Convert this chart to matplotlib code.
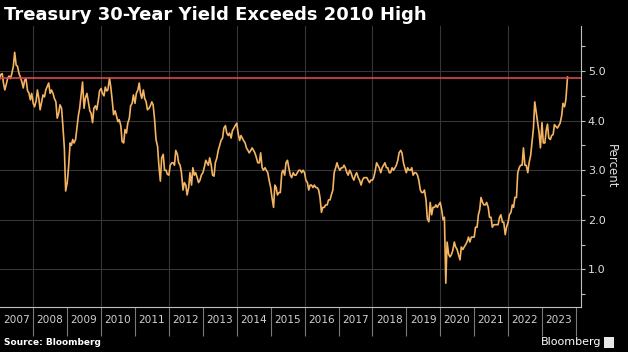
"""Treasury 30-year yield vs its 2010 high (Bloomberg-style dark chart)."""
import matplotlib

matplotlib.use("Agg")
import matplotlib.dates as mdates
import matplotlib.pyplot as plt
import pandas as pd
from matplotlib.ticker import MultipleLocator

# semi-monthly readings (1st and 15th of each month), percent
y2007 = [4.82, 4.93, 4.95, 4.75, 4.62, 4.72, 4.86, 4.90, 4.85, 4.95, 5.10, 5.38,
         5.12, 5.10, 4.95, 4.88, 4.78, 4.66, 4.82, 4.84, 4.60, 4.56, 4.42, 4.55]
y2008 = [4.35, 4.28, 4.40, 4.62, 4.45, 4.22, 4.38, 4.52, 4.48, 4.62, 4.70, 4.76,
         4.55, 4.62, 4.55, 4.45, 4.38, 4.05, 4.15, 4.32, 4.25, 3.90, 3.45, 2.58]
y2009 = [2.75, 3.05, 3.55, 3.50, 3.62, 3.55, 3.62, 3.85, 4.10, 4.25, 4.55, 4.78,
         4.25, 4.45, 4.55, 4.40, 4.20, 4.15, 3.96, 4.25, 4.30, 4.22, 4.40, 4.60]
y2010 = [4.65, 4.55, 4.50, 4.68, 4.60, 4.62, 4.86, 4.68, 4.40, 4.12, 4.20, 4.10,
         3.98, 4.02, 3.90, 3.58, 3.55, 3.82, 3.75, 3.95, 4.05, 4.30, 4.35, 4.52]
y2011 = [4.35, 4.55, 4.62, 4.76, 4.55, 4.45, 4.62, 4.45, 4.38, 4.22, 4.25, 4.30,
         4.38, 4.32, 4.00, 3.62, 3.48, 3.10, 2.78, 3.25, 3.32, 3.00, 3.00, 2.92]
y2012 = [2.90, 3.10, 3.15, 3.15, 3.10, 3.40, 3.32, 3.15, 3.10, 2.95, 2.60, 2.75,
         2.70, 2.50, 2.65, 2.95, 2.70, 3.05, 2.90, 2.95, 2.85, 2.75, 2.80, 2.90]
y2013 = [2.95, 3.05, 3.20, 3.15, 3.10, 3.25, 3.10, 2.90, 2.88, 3.15, 3.25, 3.40,
         3.50, 3.60, 3.65, 3.85, 3.90, 3.75, 3.70, 3.75, 3.65, 3.80, 3.85, 3.90]
y2014 = [3.95, 3.75, 3.60, 3.70, 3.65, 3.60, 3.55, 3.45, 3.40, 3.35, 3.40, 3.45,
         3.40, 3.35, 3.25, 3.15, 3.15, 3.35, 3.05, 3.00, 3.05, 3.00, 2.95, 2.80]
y2015 = [2.65, 2.45, 2.25, 2.70, 2.65, 2.50, 2.55, 2.55, 2.95, 3.00, 2.90, 3.15,
         3.20, 3.05, 2.90, 2.85, 2.95, 2.90, 2.90, 2.95, 3.00, 3.00, 2.95, 3.00]
y2016 = [2.95, 2.80, 2.75, 2.60, 2.70, 2.70, 2.65, 2.70, 2.65, 2.65, 2.60, 2.45,
         2.15, 2.25, 2.25, 2.30, 2.30, 2.40, 2.40, 2.50, 2.60, 2.95, 3.05, 3.15]
y2017 = [3.05, 3.00, 3.05, 3.05, 3.10, 3.05, 2.95, 2.90, 3.00, 2.95, 2.85, 2.80,
         2.90, 2.95, 2.85, 2.80, 2.70, 2.80, 2.85, 2.85, 2.85, 2.80, 2.75, 2.80]
y2018 = [2.80, 2.85, 3.00, 3.15, 3.10, 3.05, 2.95, 3.05, 3.10, 3.15, 3.05, 3.05,
         2.95, 2.95, 3.05, 3.00, 3.05, 3.10, 3.20, 3.35, 3.40, 3.35, 3.15, 3.05]
y2019 = [2.95, 3.05, 3.00, 3.00, 3.05, 2.90, 2.95, 2.95, 2.90, 2.80, 2.60, 2.55,
         2.55, 2.60, 2.40, 2.02, 1.96, 2.35, 2.10, 2.25, 2.25, 2.30, 2.25, 2.30]
y2020 = [2.35, 2.22, 2.00, 2.05, 0.72, 1.55, 1.30, 1.25, 1.30, 1.38, 1.55, 1.45,
         1.40, 1.30, 1.19, 1.45, 1.40, 1.45, 1.50, 1.55, 1.65, 1.55, 1.65, 1.65]
y2021 = [1.65, 1.85, 1.85, 2.10, 2.20, 2.45, 2.35, 2.30, 2.30, 2.35, 2.25, 2.05,
         2.05, 1.85, 1.90, 1.90, 1.90, 1.90, 2.05, 2.10, 1.95, 1.95, 1.70, 1.85]
y2022 = [1.95, 2.10, 2.15, 2.30, 2.25, 2.45, 2.45, 2.95, 3.05, 3.10, 3.10, 3.45,
         3.10, 3.10, 2.95, 3.15, 3.30, 3.55, 3.85, 4.38, 4.15, 3.95, 3.75, 3.45]
y2023 = [3.96, 3.55, 3.55, 3.80, 3.93, 3.65, 3.62, 3.70, 3.72, 3.92, 3.88, 3.85,
         3.90, 3.95, 4.10, 4.35, 4.28, 4.42]
last_date = "2023-10-03"
last_value = 4.88

HIGH_2010 = 4.86
year_labels = list(range(2007, 2024))

dates = pd.date_range("2007-01-01", "2023-09-15", freq="SMS").append(pd.DatetimeIndex([last_date]))
values = (y2007 + y2008 + y2009 + y2010 + y2011 + y2012 + y2013 + y2014 + y2015
          + y2016 + y2017 + y2018 + y2019 + y2020 + y2021 + y2022 + y2023 + [last_value])
series = pd.Series(values, index=dates)

BG = "#000000"
fig = plt.figure(figsize=(6.28, 3.52), dpi=100, facecolor=BG)
ax = fig.add_axes([0.0, 0.128, 0.925, 0.798], facecolor=BG)

ax.plot(series.index, series.values, color="#f4b462", lw=1.2, zorder=3)
ax.axhline(HIGH_2010, color="#d8484c", lw=1.2, zorder=4)

ax.set_xlim(pd.Timestamp("2007-01-08"), pd.Timestamp("2024-02-24"))
ax.set_ylim(0.24, 5.91)

# grid: every unit horizontally, every other year vertically
ax.yaxis.set_major_locator(MultipleLocator(1.0))
ax.yaxis.set_minor_locator(MultipleLocator(0.5))
ax.yaxis.grid(True, color="#363636", lw=0.8)
for yr in year_labels[1::2]:
    ax.axvline(pd.Timestamp(f"{yr}-01-01"), color="#363636", lw=0.8, zorder=1)

# x axis: separators at year starts, labels mid-year
ax.xaxis.set_major_locator(mdates.YearLocator())
ax.xaxis.set_major_formatter(plt.NullFormatter())
ax.xaxis.set_minor_locator(mdates.YearLocator(month=7))
ax.xaxis.set_minor_formatter(mdates.DateFormatter("%Y"))
ax.tick_params(axis="x", which="major", length=21, width=0.8, color="#7a7a7a")
ax.tick_params(axis="x", which="minor", length=0, pad=6, labelsize=7.6, labelcolor="#d0d0d0")

ax.yaxis.tick_right()
ax.yaxis.set_label_position("right")
ax.yaxis.set_major_formatter(plt.FormatStrFormatter("%.1f"))
ax.tick_params(axis="y", which="major", length=3, width=0.8, color="#bfbfbf",
               labelsize=8, labelcolor="#e0e0e0", pad=2)
ax.tick_params(axis="y", which="minor", length=3, width=0.8, color="#bfbfbf")
ax.set_ylabel("Percent", rotation=270, color="#e0e0e0", fontsize=8.5, labelpad=9)

for side in ("left", "top"):
    ax.spines[side].set_visible(False)
for side in ("right", "bottom"):
    ax.spines[side].set_color("#bfbfbf")
    ax.spines[side].set_linewidth(0.8)

fig.text(0.006, 0.958, "Treasury 30-Year Yield Exceeds 2010 High", color="white",
         fontsize=13, fontweight="bold", va="center", ha="left")
fig.text(0.006, 0.028, "Source: Bloomberg", color="white", fontsize=6.5,
         fontweight="bold", va="center", ha="left")
fig.text(0.958, 0.028, "Bloomberg", color="white", fontsize=8, va="center", ha="right")
fig.patches.append(plt.Rectangle((0.962, 0.012), 0.016, 0.03, transform=fig.transFigure,
                                 facecolor="#e8e8e8", edgecolor="none"))

fig.savefig("out.png", dpi=100, facecolor=BG)
